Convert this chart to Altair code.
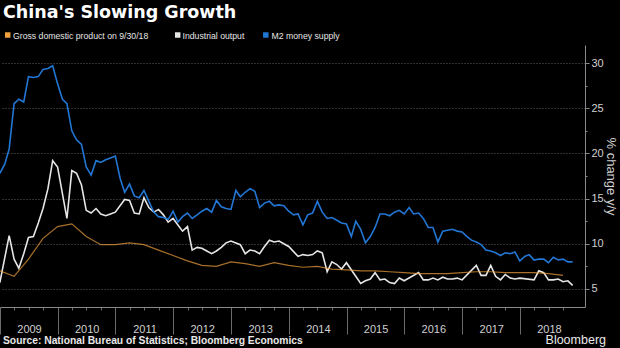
import altair as alt
import pandas as pd

chart_title = "China's Slowing Growth"
source_note = "Source: National Bureau of Statistics; Bloomberg Economics"
brand = "Bloomberg"
y_title = "% change y/y"

series_names = ["Gross domestic product on 9/30/18", "Industrial output", "M2 money supply"]
series_colors = ["#f0a03c", "#e6e6e6", "#2276d4"]

# Monthly readings, Dec 2008 .. Nov 2018 (120 months, plotted at month end)
m2_values = [
    17.8,
    18.8, 20.5, 25.5, 26.0, 25.7, 28.5, 28.4, 28.5, 29.3, 29.4, 29.7, 27.7,
    26.0, 25.5, 22.5, 21.5, 21.0, 18.5, 17.6, 19.2, 19.0, 19.3, 19.5, 19.7,
    17.2, 15.7, 16.6, 15.3, 15.1, 15.9, 14.7, 13.5, 13.0, 12.9, 12.7, 13.6,
    12.4, 13.0, 13.4, 12.8, 13.2, 13.6, 13.9, 13.5, 14.8, 14.1, 13.9, 13.8,
    15.9, 15.2, 15.7, 16.1, 15.8, 14.0, 14.5, 14.7, 14.2, 14.3, 14.2, 13.6,
    13.2, 13.3, 12.1, 13.2, 13.4, 14.7, 13.5, 12.8, 12.9, 12.6, 12.3, 12.2,
    10.8, 12.5, 11.6, 10.1, 10.8, 11.8, 13.3, 13.3, 13.1, 13.5, 13.7, 13.3,
    14.0, 13.3, 13.4, 12.8, 11.8, 11.8, 10.2, 11.4, 11.5, 11.6, 11.4, 11.3,
    10.8, 10.4, 10.2, 9.9, 9.3, 9.2, 9.0, 8.7, 9.0, 8.9, 9.1, 8.1,
    8.6, 8.8, 8.2, 8.3, 8.3, 7.9, 8.5, 8.2, 8.3, 8.0, 8.0,
]

# Industrial output, same months; None = no reading published for that month
ip_values = [
    5.7,
    None, 10.9, 8.3, 7.3, 8.9, 10.7, 10.8, 12.3, 13.9, 16.1, 19.2, 18.5,
    None, 12.8, 18.1, 17.8, 16.5, 13.7, 13.4, 13.9, 13.3, 13.1, 13.3, 13.5,
    None, 14.9, 14.8, 13.4, 13.3, 15.1, 14.0, 13.5, 13.8, 13.2, 12.4, 12.8,
    None, 11.4, 11.9, 9.3, 9.6, 9.5, 9.2, 8.9, 9.2, 9.6, 10.1, 10.3,
    None, 9.9, 8.9, 9.3, 9.2, 8.9, 9.7, 10.4, 10.2, 10.3, 10.0, 9.7,
    None, 8.6, 8.8, 8.7, 8.8, 9.2, 9.0, 6.9, 8.0, 7.7, 7.2, 7.9,
    None, None, 5.6, 5.9, 6.1, 6.8, 6.0, 6.1, 5.7, 5.6, 6.2, 5.9,
    None, None, 6.8, 6.0, 6.0, 6.2, 6.0, 6.3, 6.1, 6.1, 6.2, 6.0,
    None, None, 7.6, 6.5, 6.5, 7.6, 6.4, 6.0, 6.6, 6.2, 6.1, 6.2,
    None, None, 6.0, 7.0, 6.8, 6.0, 6.0, 6.1, 5.8, 5.9, 5.4,
]

# Quarterly GDP, Q4 2008 .. Q3 2018 (plotted at quarter end)
gdp_values = [
    7.0,
    6.4, 8.3, 10.6, 11.9,
    12.2, 10.8, 9.9, 9.9,
    10.1, 9.9, 9.3, 8.7,
    8.1, 7.6, 7.5, 8.0,
    7.8, 7.5, 7.9, 7.6,
    7.4, 7.5, 7.2, 7.1,
    7.0, 7.0, 6.9, 6.8,
    6.7, 6.7, 6.7, 6.8,
    6.9, 6.9, 6.8, 6.8,
    6.8, 6.7, 6.5,
]

months = pd.date_range("2008-12-01", periods=len(m2_values), freq="MS") + pd.offsets.MonthEnd(0)
quarters = pd.date_range("2008-12-01", periods=len(gdp_values), freq="3MS") + pd.offsets.MonthEnd(0)

gdp_rows = [{"series": series_names[0], "date": d, "value": v} for d, v in zip(quarters, gdp_values)]
other_rows = []
for d, v in zip(months, ip_values):
    if v is not None:
        other_rows.append({"series": series_names[1], "date": d, "value": v})
for d, v in zip(months, m2_values):
    other_rows.append({"series": series_names[2], "date": d, "value": v})
gdp_df = pd.DataFrame(gdp_rows)
other_df = pd.DataFrame(other_rows)

axis_grey = "#8a8a8a"
label_grey = "#d0d0d0"

x_axis = alt.Axis(
    values=[alt.DateTime(year=y, month=m, date=1) for y in range(2009, 2019) for m in (1, 4, 7, 10)],
    labelExpr="month(datum.value) == 0 ? timeFormat(datum.value, '%Y') : ''",
    labelOffset=29,
    labelPadding=-11,
    labelFlush=False,
    labelOverlap=False,
    labelColor=label_grey,
    labelFont="Liberation Sans",
    labelFontSize=11,
    labelAngle=0,
    tickSize={"condition": {"test": "month(datum.value) == 0", "value": 27}, "value": 3},
    tickColor="#6a6a6a",
    domainColor=axis_grey,
    grid=False,
    title=None,
)

y_axis = alt.Axis(
    orient="right",
    values=[5, 7.5, 10, 12.5, 15, 17.5, 20, 22.5, 25, 27.5, 30],
    labelExpr="datum.value % 5 == 0 ? datum.label : ''",
    labelOverlap=False,
    labelFlush=False,
    tickSize={"condition": {"test": "datum.value % 5 != 0", "value": 2}, "value": 4},
    tickColor=axis_grey,
    domainColor=axis_grey,
    grid=True,
    gridColor="#5e5e5e",
    gridDash=[1, 2],
    gridOpacity={"condition": {"test": "datum.value % 5 != 0", "value": 0}, "value": 1},
    labelColor=label_grey,
    labelFont="Liberation Sans",
    labelFontSize=11,
    labelPadding=2,
    title=y_title,
    titleColor=label_grey,
    titleFont="Liberation Sans",
    titleFontSize=13,
    titleFontWeight="normal",
    titlePadding=0,
)

color_scale = alt.Scale(domain=series_names, range=series_colors)

x_enc = alt.X("date:T", scale=alt.Scale(domain=[alt.DateTime(year=2009, month=1, date=1),
                                                alt.DateTime(year=2019, month=2, date=16)]),
              axis=x_axis)
y_enc = alt.Y("value:Q", scale=alt.Scale(domain=[3, 32], nice=False, zero=False), axis=y_axis)
color_enc = alt.Color("series:N", scale=color_scale, legend=None)

main_lines = alt.Chart(other_df).mark_line(interpolate="linear", strokeWidth=1.6).encode(
    x=x_enc, y=y_enc, color=color_enc
)
gdp_line = alt.Chart(gdp_df).mark_line(interpolate="linear", strokeWidth=1.2, strokeOpacity=0.7).encode(
    x=x_enc, y=y_enc, color=color_enc
)

# Legend row (swatch coloured through the same colour scale, then its label)
legend_swatch_x = [7.7, 177.7, 265.8]
legend_label_x = [13, 182.5, 271.5]
legend_layers = []
for name, sx, lx in zip(series_names, legend_swatch_x, legend_label_x):
    item = pd.DataFrame({"series": [name]})
    legend_layers.append(
        alt.Chart(item).mark_square(size=30, filled=True, opacity=1).encode(
            x=alt.value(sx), y=alt.value(-10),
            color=alt.Color("series:N", scale=color_scale, legend=None),
        )
    )
    legend_layers.append(
        alt.Chart(item).mark_text(
            align="left", baseline="middle", font="Liberation Sans", fontSize=8.7, color="#e6e6e6"
        ).encode(x=alt.value(lx), y=alt.value(-9.5), text="series:N")
    )

title_layer = alt.Chart(pd.DataFrame({"t": [chart_title]})).mark_text(
    align="left", baseline="alphabetic", font="DejaVu Sans", fontWeight="bold",
    fontSize=17.5, color="white"
).encode(x=alt.value(3), y=alt.value(-27), text="t:N")

source_layer = alt.Chart(pd.DataFrame({"t": [source_note]})).mark_text(
    align="left", baseline="alphabetic", font="Liberation Sans", fontWeight="bold",
    fontSize=10.3, color="#e8e8e8"
).encode(x=alt.value(3), y=alt.value(299), text="t:N")

brand_layer = alt.Chart(pd.DataFrame({"t": [brand]})).mark_text(
    align="right", baseline="alphabetic", font="Liberation Sans",
    fontSize=12.5, color="#e8e8e8"
).encode(x=alt.value(606), y=alt.value(299), text="t:N")

chart = alt.layer(main_lines, gdp_line, *legend_layers, title_layer, source_layer, brand_layer).properties(
    width=585,
    height=262,
    autosize="none",
    padding={"left": 0, "top": 45, "right": 35, "bottom": 41},
    background="black",
).configure_view(stroke=None)

chart.save("out.html", embed_options={"renderer": "svg", "actions": False})
